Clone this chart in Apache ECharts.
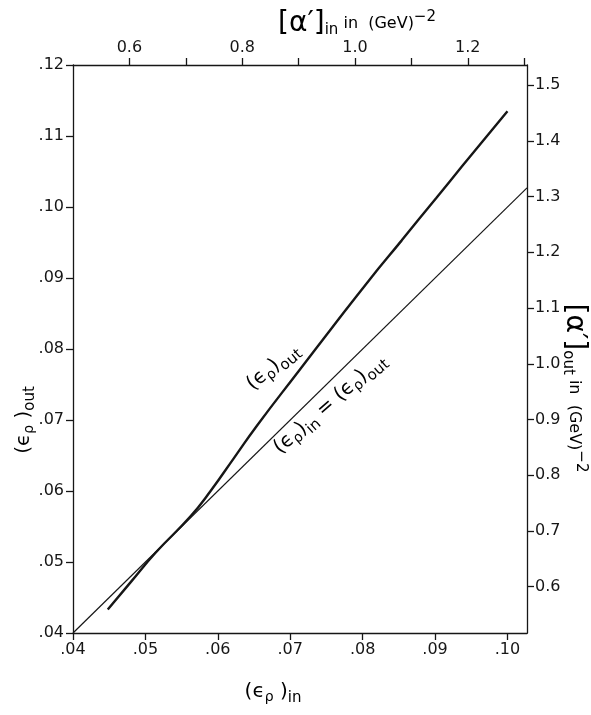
<!DOCTYPE html>
<html>
<head>
<meta charset="utf-8">
<script src="https://cdn.jsdelivr.net/npm/echarts@6/dist/echarts.min.js"></script>
<style>
  html, body { margin: 0; padding: 0; background: #fff; }
  #chart { width: 591px; height: 715px; }
</style>
</head>
<body>
<div id="chart"></div>
<script>
// (ε_ρ)_in on the bottom axis, (ε_ρ)_out on the left axis
const epsInTicks = [0.04, 0.05, 0.06, 0.07, 0.08, 0.09, 0.10];
const epsOutTicks = [0.04, 0.05, 0.06, 0.07, 0.08, 0.09, 0.10, 0.11, 0.12];

// Slope parameter scales (GeV^-2) on the top and right axes
const alphaInTicks = [0.6, 0.7, 0.8, 0.9, 1.0, 1.1, 1.2, 1.3];
const alphaInLabels = [0.6, 0.8, 1.0, 1.2];
const alphaOutTicks = [0.6, 0.7, 0.8, 0.9, 1.0, 1.1, 1.2, 1.3, 1.4, 1.5];

// Output vs input curve
const curveIn  = [0.0448, 0.0480, 0.0514, 0.0562, 0.0590, 0.0622, 0.0654, 0.0711, 0.0754, 0.0809, 0.0854, 0.0877, 0.0902, 0.0937, 0.1000];
const curveOut = [0.0433, 0.0472, 0.0513, 0.0564, 0.0600, 0.0646, 0.0692, 0.0768, 0.0825, 0.0897, 0.0953, 0.0982, 0.1013, 0.1057, 0.1135];

// Reference line (ε_ρ)_in = (ε_ρ)_out
const diagIn  = [0.04, 0.1027];
const diagOut = [0.04, 0.1027];

const INK = '#161616';
const FONT = 'DejaVu Sans';

const zip = (a, b) => a.map((v, i) => [v, b[i]]);
const dotLabel = v => '.' + Math.round(v * 100).toString().padStart(2, '0');

const richStyles = {
  m: { fontFamily: FONT, fontSize: 20, color: INK },
  s: { fontFamily: FONT, fontSize: 15, color: INK, padding: [13, 0, 0, 0] },
  r: { fontFamily: FONT, fontSize: 14, color: INK, padding: [10, 0, 0, 0] },
  b: { fontFamily: FONT, fontSize: 28, color: INK },
  sup: { fontFamily: FONT, fontSize: 15, color: INK, padding: [0, 0, 14, 0] },
  t: { fontFamily: FONT, fontSize: 16, color: INK }
};

const chart = echarts.init(document.getElementById('chart'), null, { renderer: 'canvas' });

const axisCommon = {
  type: 'value',
  axisLine: { show: true, lineStyle: { color: INK, width: 1.3 } },
  axisTick: { show: true, inside: false, length: 7, lineStyle: { color: INK, width: 1.3 } },
  splitLine: { show: false },
  axisLabel: { color: INK, fontFamily: FONT, fontSize: 16 }
};

chart.setOption({
  backgroundColor: '#fff',
  animation: false,
  grid: { left: 73, right: 64, top: 65, bottom: 82, outerBoundsMode: 'none', containLabel: false },
  xAxis: [
    Object.assign({}, axisCommon, {
      position: 'bottom', min: 0.04, max: diagIn[1],
      axisTick: Object.assign({}, axisCommon.axisTick, { customValues: epsInTicks }),
      axisLabel: Object.assign({}, axisCommon.axisLabel, { customValues: epsInTicks, margin: 9, formatter: dotLabel })
    }),
    Object.assign({}, axisCommon, {
      position: 'top', min: 0.5, max: 1.305,
      axisTick: Object.assign({}, axisCommon.axisTick, { customValues: alphaInTicks }),
      axisLabel: Object.assign({}, axisCommon.axisLabel, { customValues: alphaInLabels, margin: 9, formatter: v => v.toFixed(1) })
    })
  ],
  yAxis: [
    Object.assign({}, axisCommon, {
      position: 'left', min: 0.04, max: 0.12,
      axisTick: Object.assign({}, axisCommon.axisTick, { customValues: epsOutTicks }),
      axisLabel: Object.assign({}, axisCommon.axisLabel, { customValues: epsOutTicks, margin: 9, formatter: dotLabel })
    }),
    Object.assign({}, axisCommon, {
      position: 'right', min: 0.517, max: 1.536,
      axisTick: Object.assign({}, axisCommon.axisTick, { customValues: alphaOutTicks }),
      axisLabel: Object.assign({}, axisCommon.axisLabel, { customValues: alphaOutTicks, margin: 8, formatter: v => v.toFixed(1) })
    })
  ],
  series: [
    {
      type: 'line', xAxisIndex: 0, yAxisIndex: 0,
      data: zip(diagIn, diagOut),
      showSymbol: false, silent: true,
      lineStyle: { color: INK, width: 1.2 }
    },
    {
      type: 'line', xAxisIndex: 0, yAxisIndex: 0,
      data: zip(curveIn, curveOut),
      showSymbol: false, silent: true, smooth: 0.5,
      lineStyle: { color: INK, width: 2.4 }
    }
  ],
  graphic: [
    // left axis title
    {
      type: 'text', x: 24, y: 420, rotation: Math.PI / 2,
      style: { text: '{m|(ϵ}{r|ρ}{m| )}{s|out}', rich: richStyles, align: 'center', verticalAlign: 'middle' }
    },
    // bottom axis title
    {
      type: 'text', x: 273, y: 692,
      style: { text: '{m|(ϵ}{r|ρ}{m| )}{s|in}', rich: richStyles, align: 'center', verticalAlign: 'middle' }
    },
    // top axis title
    {
      type: 'text', x: 357, y: 24,
      style: { text: '{b|[α′]}{s|in}{t| in  (GeV)}{sup|−2}', rich: richStyles, align: 'center', verticalAlign: 'middle' }
    },
    // right axis title
    {
      type: 'text', x: 574, y: 388, rotation: -Math.PI / 2,
      style: { text: '{b|[α′]}{s|out}{t| in  (GeV)}{sup|−2}', rich: richStyles, align: 'center', verticalAlign: 'middle' }
    },
    // curve label
    {
      type: 'text', x: 273, y: 367, rotation: 40 * Math.PI / 180,
      style: { text: '{m|(ϵ}{r|ρ}{m|)}{s|out}', rich: richStyles, align: 'center', verticalAlign: 'middle' }
    },
    // diagonal label
    {
      type: 'text', x: 330, y: 404, rotation: 41 * Math.PI / 180,
      style: { text: '{m|(ϵ}{r|ρ}{m|)}{s|in}{m| = (ϵ}{r|ρ}{m|)}{s|out}', rich: richStyles, align: 'center', verticalAlign: 'middle' }
    }
  ]
});
</script>
</body>
</html>
